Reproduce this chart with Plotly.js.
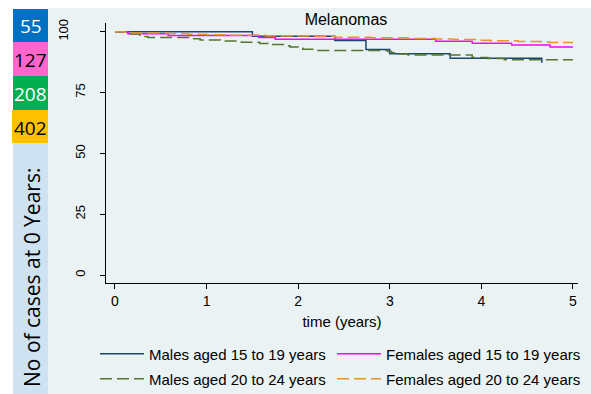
<!DOCTYPE html>
<html>
<head>
<meta charset="utf-8">
<script src="https://cdn.plot.ly/plotly-3.0.1.min.js"></script>
<style>html,body{margin:0;padding:0;background:#fff;}#chart{width:591px;height:394px;}</style>
</head>
<body>
<div id="chart"></div>
<script>
// ---- Data ----
const seriesNames = ["Males aged 15 to 19 years", "Females aged 15 to 19 years", "Males aged 20 to 24 years", "Females aged 20 to 24 years"];
const casesAtZero = ["55", "127", "208", "402"];
const stripLabel = "No of cases at 0 Years:";
const chartTitle = "Melanomas";
const xTitle = "time (years)";
const xTicks = [0, 1, 2, 3, 4, 5];
const yTicks = [0, 25, 50, 75, 100];
const yTickText = ["0", "25", "50", "75", "100<br> "];

const m1519_t = [0, 1.50, 2.40, 2.74, 3.00, 3.66, 4.66];
const m1519_s = [100, 98.18, 96.36, 92.73, 90.91, 89.09, 87.27];

const f1519_t = [0, 0.14, 0.58, 1.57, 1.75, 3.50, 3.90, 4.33, 4.75, 5.00];
const f1519_s = [100, 99.21, 98.43, 97.64, 96.85, 96.06, 95.28, 94.49, 93.70, 93.70];

const m2024_t = [0, 0.16, 0.27, 0.36, 0.82, 0.93, 1.15, 1.38, 1.58, 1.67, 1.85, 1.91, 2.00, 2.05, 2.18, 2.98, 3.02, 3.07, 3.20, 3.90, 4.07, 4.25, 5.00];
const m2024_s = [100, 99.04, 98.08, 97.60, 97.12, 96.63, 96.15, 95.67, 95.19, 94.71, 94.23, 93.75, 93.27, 92.79, 92.31, 91.83, 91.35, 90.87, 90.38, 89.42, 88.94, 88.46, 88.46];

const f2024_t = [0, 0.10, 0.18, 0.58, 0.80, 1.00, 1.20, 1.65, 2.10, 2.40, 2.80, 3.20, 3.50, 3.70, 3.95, 4.10, 4.40, 4.65, 4.75, 5.00];
const f2024_s = [100, 99.75, 99.50, 99.25, 99.00, 98.75, 98.50, 98.26, 98.01, 97.76, 97.51, 97.26, 97.01, 96.76, 96.51, 96.26, 96.02, 95.77, 95.52, 95.52];

// ---- Styling / layout ----
const W = 591, H = 394;
const M = {l: 106, r: 13, t: 23, b: 111, autoexpand: false};
const PW = W - M.l - M.r, PH = H - M.t - M.b;
const px2x = p => (p - M.l) / PW;
const py2y = p => (H - M.b - p) / PH;

const BG = "#eaf2f3";
const FONT = "Liberation Sans, Arial, sans-serif";
const SFONT = "'Open Sans', Lato, sans-serif";
const lineColors = ["#1a476f", "#ff00ff", "#55752f", "#e8932a"];
const dashes = ["solid", "solid", "12px,5px", "12px,5px"];
const tArr = [m1519_t, f1519_t, m2024_t, f2024_t];
const sArr = [m1519_s, f1519_s, m2024_s, f2024_s];
const legendIds = ["legend", "legend2", "legend3", "legend4"];

const traces = seriesNames.map((n, i) => ({
  type: "scatter", mode: "lines", name: n,
  x: tArr[i], y: sArr[i],
  line: {shape: "hv", color: lineColors[i], width: 1.5, dash: dashes[i]},
  legend: legendIds[i],
  hoverinfo: "skip"
}));

const boxColors = ["#0070c0", "#ff66cc", "#00b050", "#ffc000"];
const boxText = ["#ffffff", "#000000", "#ffffff", "#000000"];
const boxY = [[9, 42], [42, 76], [76, 110], [110, 143]];
const shapes = [
  {type: "rect", xref: "paper", yref: "paper", x0: px2x(48), x1: px2x(W + 2), y0: py2y(8), y1: py2y(H + 2), fillcolor: BG, line: {width: 0}, layer: "below"},
  {type: "rect", xref: "paper", yref: "paper", x0: px2x(13), x1: px2x(48), y0: py2y(143), y1: py2y(H + 2), fillcolor: "#cfe2f1", line: {width: 0}, layer: "below"}
];
const annotations = [];
casesAtZero.forEach((c, i) => {
  shapes.push({type: "rect", xref: "paper", yref: "paper", x0: px2x(i === 3 ? 12 : 13), x1: px2x(48), y0: py2y(boxY[i][1]), y1: py2y(boxY[i][0]), fillcolor: boxColors[i], line: {width: 0}, layer: "below"});
  annotations.push({xref: "paper", yref: "paper", x: px2x(30.5), y: py2y((boxY[i][0] + boxY[i][1]) / 2 + 1), text: c, showarrow: false, xanchor: "center", yanchor: "middle", font: {family: SFONT, size: 19, color: boxText[i]}});
});
annotations.push({xref: "paper", yref: "paper", x: px2x(32), y: py2y(278), text: stripLabel, textangle: -90, showarrow: false, xanchor: "center", yanchor: "middle", font: {family: SFONT, size: 21, color: "#000"}});

const legendCommon = {orientation: "h", xanchor: "left", yanchor: "middle", bgcolor: "rgba(0,0,0,0)", borderwidth: 0, itemwidth: 44, font: {family: FONT, size: 15, color: "#000"}, itemclick: false, itemdoubleclick: false};
const legendPos = [[95, 354], [332, 354], [95, 379], [332, 379]];

const layout = {
  width: W, height: H,
  margin: M,
  paper_bgcolor: "#ffffff",
  plot_bgcolor: BG,
  font: {family: FONT, color: "#000"},
  title: {text: chartTitle, font: {family: FONT, size: 16, color: "#000"}, xref: "paper", x: px2x(346), xanchor: "center", yref: "container", y: 1 - 19 / H, yanchor: "middle"},
  xaxis: {range: [-0.098, 5.055], tickvals: xTicks, ticks: "outside", ticklen: 5, tickcolor: "#000", showline: true, linecolor: "#000", linewidth: 1, showgrid: false, zeroline: false, tickfont: {family: FONT, size: 14, color: "#000"}, title: {text: xTitle, font: {family: FONT, size: 15, color: "#000"}, standoff: 8}},
  yaxis: {range: [-3.29, 103.58], tickvals: yTicks, ticktext: yTickText, ticks: "outside", ticklen: 5, tickcolor: "#000", showline: true, linecolor: "#000", linewidth: 1, showgrid: false, zeroline: false, tickangle: -90, tickfont: {family: FONT, size: 13, color: "#000"}, ticklabelstandoff: 10},
  shapes: shapes,
  annotations: annotations,
  showlegend: true
};
legendIds.forEach((id, i) => {
  layout[id] = Object.assign({}, legendCommon, {x: px2x(legendPos[i][0]), y: py2y(legendPos[i][1])});
});

Plotly.newPlot("chart", traces, layout, {displayModeBar: false, staticPlot: true});
</script>
</body>
</html>
